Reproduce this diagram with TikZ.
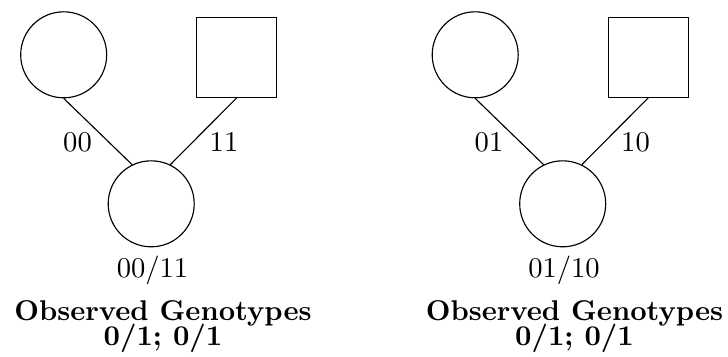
\documentclass[tikz,border=0pt]{standalone}
\begin{document}
\begin{tikzpicture}[x=0.35pt,y=-0.35pt,
  fem/.style={draw,circle,minimum size=30.1pt,inner sep=0pt},
  mal/.style={draw,rectangle,minimum size=28pt,inner sep=0pt},
  lbl/.style={anchor=base,inner sep=0pt},
  ttl/.style={anchor=base,inner sep=0pt,font=\bfseries}]
\useasboundingbox (0,0) rectangle (728,356);
% left family
\node[fem] (m1) at (63.7,54.8) {};
\node[mal] (f1) at (236.7,57.3) {};
\node[fem] (c1) at (151.2,203.8) {};
\draw (m1.south) -- (c1.116);
\draw (f1.south) -- (c1.64);
\node[lbl] (l1a) at (77.5,151) {00};
\node[lbl] (l1b) at (224,151) {11};
\node[lbl] (l1c) at (152.5,277) {00/11};
\node[ttl] (t1a) at (163,320) {Observed Genotypes};
\node[ttl] (t1b) at (163,345) {0/1; 0/1};
% right family
\node[fem] (m2) at (475.2,54.8) {};
\node[mal] (f2) at (648.2,57.3) {};
\node[fem] (c2) at (562.7,203.8) {};
\draw (m2.south) -- (c2.116);
\draw (f2.south) -- (c2.64);
\node[lbl] (l2a) at (489,151) {01};
\node[lbl] (l2b) at (635.5,151) {10};
\node[lbl] (l2c) at (564,277) {01/10};
\node[ttl] (t2a) at (574.5,320) {Observed Genotypes};
\node[ttl] (t2b) at (574.5,345) {0/1; 0/1};
\end{tikzpicture}
\end{document}
